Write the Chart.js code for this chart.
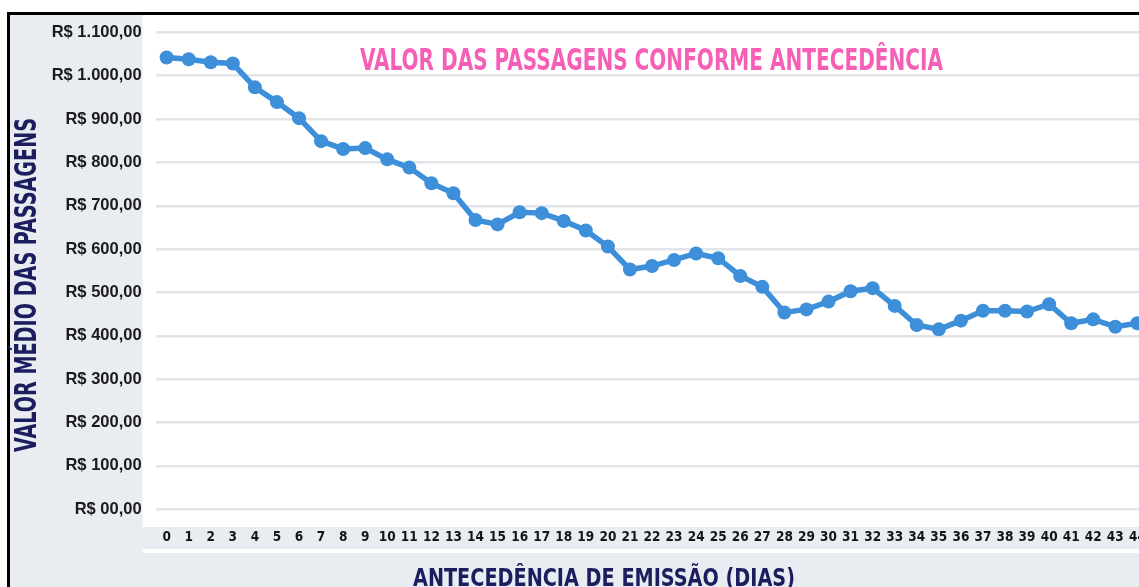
<!DOCTYPE html>
<html><head><meta charset="utf-8">
<script src="https://cdn.jsdelivr.net/npm/chart.js@4.4.0/dist/chart.umd.min.js"></script>
<style>
html,body{margin:0;padding:0;background:#fff;overflow:hidden;width:1139px;height:587px;}
#frame{position:absolute;left:7px;top:12px;width:1200px;height:620px;border-left:3px solid #000;border-top:3px solid #000;background:#e9edf1;}
#c{position:absolute;left:0;top:0;}
</style></head><body>
<div id="frame"></div>
<canvas id="c" width="1166" height="600"></canvas>
<script>
const days = ['0','1','2','3','4','5','6','7','8','9','10','11','12','13','14','15','16','17','18','19','20','21','22','23','24','25','26','27','28','29','30','31','32','33','34','35','36','37','38','39','40','41','42','43','44'];
const avgFare = [1042,1038,1031,1028,973,939,902,849,831,833,807,788,752,729,667,657,685,683,665,643,606,553,561,575,590,579,538,513,454,461,479,503,510,469,425,415,435,458,458,456,473,429,438,421,429];
const yTickValues = [0,100,200,300,400,500,600,700,800,900,1000,1100];
const yTickLabels = ['R$ 00,00','R$ 100,00','R$ 200,00','R$ 300,00','R$ 400,00','R$ 500,00','R$ 600,00','R$ 700,00','R$ 800,00','R$ 900,00','R$ 1.000,00','R$ 1.100,00'];
const chartTitle = 'VALOR DAS PASSAGENS CONFORME ANTECEDÊNCIA';
const yTitle = 'VALOR MÉDIO DAS PASSAGENS';
const xTitle = 'ANTECEDÊNCIA DE EMISSÃO (DIAS)';

const NARROW = "'Liberation Sans Narrow','DejaVu Sans Condensed','Liberation Sans',sans-serif";

function fitText(ctx, text, x, y, size, targetW, color, rot) {
  ctx.save();
  ctx.font = 'bold ' + size + 'px ' + NARROW;
  ctx.fillStyle = color;
  ctx.textAlign = 'center';
  ctx.textBaseline = 'alphabetic';
  const w = ctx.measureText(text).width;
  ctx.translate(x, y);
  if (rot) ctx.rotate(rot);
  ctx.scale(targetW / w, 1);
  ctx.fillText(text, 0, 0);
  ctx.restore();
}

const bgPlugin = {
  id: 'bg',
  beforeDraw(chart) {
    const ctx = chart.ctx;
    const a = chart.chartArea;
    ctx.save();
    ctx.fillStyle = '#ffffff';
    ctx.fillRect(a.left - 13, 15, chart.width, 527 - 15);
    ctx.fillRect(a.left - 13, 549, chart.width, 4);
    ctx.restore();
  },
  afterDraw(chart) {
    const ctx = chart.ctx;
    fitText(ctx, chartTitle, 651.5, 70, 30, 583, '#f55fb6', 0);
    fitText(ctx, yTitle, 36, 285, 30, 334, '#1c1d5f', -Math.PI / 2);
    fitText(ctx, xTitle, 604, 586, 25, 382, '#1c1d5f', 0);
  }
};

new Chart(document.getElementById('c'), {
  type: 'line',
  data: {
    labels: days,
    datasets: [{
      data: avgFare,
      borderColor: '#3d8fd9',
      backgroundColor: '#3d8fd9',
      borderWidth: 5.5,
      pointRadius: 7,
      pointHoverRadius: 7,
      pointBackgroundColor: '#3d8fd9',
      pointBorderWidth: 0,
      tension: 0,
      fill: false
    }]
  },
  options: {
    responsive: false,
    devicePixelRatio: 1,
    animation: false,
    layout: { padding: { left: 0, top: 32.3, right: 15, bottom: 0 } },
    plugins: { legend: { display: false }, tooltip: { enabled: false }, title: { display: false } },
    scales: {
      x: {
        type: 'category',
        offset: true,
        grid: { display: false, drawTicks: false },
        border: { display: false },
        ticks: {
          autoSkip: false, maxRotation: 0, minRotation: 0,
          color: '#151515',
          padding: 20,
          font: { family: NARROW, size: 13.5, weight: 'bold' }
        },
        afterFit(scale) { scale.height = 600 - 509.3; }
      },
      y: {
        min: 0, max: 1100,
        afterBuildTicks(scale) { scale.ticks = yTickValues.map(v => ({ value: v })); },
        grid: { color: '#e1e4e8', lineWidth: 2.5, drawTicks: false },
        border: { display: false },
        ticks: {
          color: '#1a1a1a',
          padding: 14,
          font: { family: "'Liberation Sans','DejaVu Sans',sans-serif", size: 16.5, weight: 'bold' },
          callback(v) { const i = yTickValues.indexOf(v); return i >= 0 ? yTickLabels[i] : ''; }
        },
        afterFit(scale) { scale.width = 155.6; }
      }
    }
  },
  plugins: [bgPlugin]
});
</script>
</body></html>
